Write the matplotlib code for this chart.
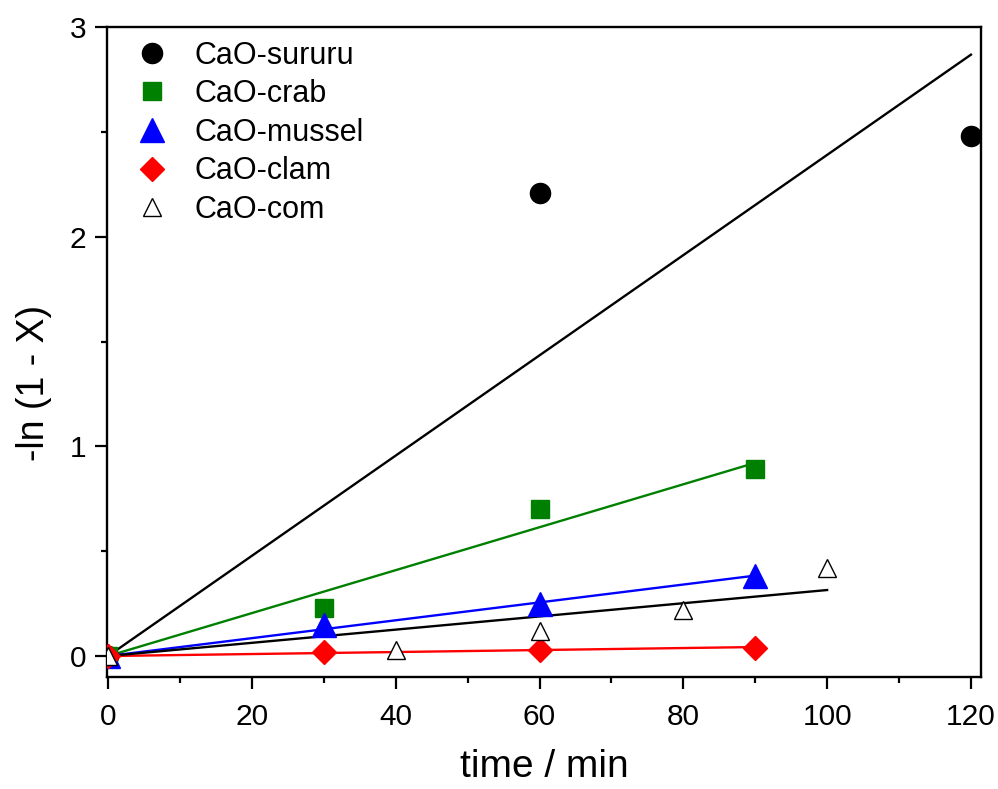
import numpy as np
import matplotlib
matplotlib.use("Agg")
import matplotlib.pyplot as plt
from matplotlib.ticker import MultipleLocator

plt.rcParams['font.family'] = ['Liberation Sans', 'DejaVu Sans']

# data
sururu_t = [0, 60, 120]
sururu_y = [0, 2.21, 2.48]
crab_t = [0, 30, 60, 90]
crab_y = [0, 0.23, 0.70, 0.89]
mussel_t = [0, 30, 60, 90]
mussel_y = [0, 0.15, 0.25, 0.38]
clam_t = [0, 30, 60, 90]
clam_y = [0, 0.02, 0.03, 0.04]
com_t = [0, 40, 60, 80, 100]
com_y = [0, 0.03, 0.12, 0.22, 0.42]

labels = ['CaO-sururu', 'CaO-crab', 'CaO-mussel', 'CaO-clam', 'CaO-com']

fig = plt.figure(figsize=(9.98, 7.89), dpi=100)
ax = fig.add_axes([107/998, 1-677/789, (981-107)/998, (677-27)/789])

def fit_line(t, y, color):
    t = np.asarray(t, float); y = np.asarray(y, float)
    k = np.sum(t*y)/np.sum(t*t)
    xs = np.array([0, t.max()])
    ax.plot(xs, k*xs, color=color, lw=1.7, zorder=2)

fit_line(sururu_t, sururu_y, 'black')
fit_line(crab_t, crab_y, 'green')
fit_line(mussel_t, mussel_y, 'blue')
fit_line(clam_t, clam_y, 'red')
fit_line(com_t, com_y, 'black')

h1, = ax.plot(sururu_t, sururu_y, 'o', color='black', ms=14.5, ls='none', zorder=3, label=labels[0])
h2, = ax.plot(crab_t, crab_y, 's', color='green', ms=13, ls='none', zorder=3, label=labels[1])
h3, = ax.plot(mussel_t, mussel_y, '^', color='blue', ms=17, ls='none', zorder=3, label=labels[2])
h4, = ax.plot(clam_t, clam_y, 'D', color='red', ms=12.5, ls='none', zorder=3, label=labels[3])
h5, = ax.plot(com_t, com_y, '^', mfc='white', mec='black', mew=1.0, ms=13, ls='none', zorder=4, label=labels[4])

ax.set_xlim(-0.15, 121.4)
ax.set_ylim(-0.1, 3.0)
ax.xaxis.set_major_locator(MultipleLocator(20))
ax.xaxis.set_minor_locator(MultipleLocator(10))
ax.yaxis.set_major_locator(MultipleLocator(1))
ax.yaxis.set_minor_locator(MultipleLocator(0.5))
ax.tick_params(which='both', direction='out', width=1.6, labelsize=21.5, top=False, right=False)
ax.tick_params(which='major', length=8.5)
ax.tick_params(which='minor', length=4.5)
ax.tick_params(axis='x', which='major', pad=10)
ax.tick_params(axis='y', which='major', pad=6.5)
for s in ax.spines.values():
    s.set_linewidth(1.7)

ax.set_xlabel('time / min', fontsize=28, labelpad=13)
ax.set_ylabel('-ln (1 - X)', fontsize=27)
ax.yaxis.set_label_coords(-0.063, 0.452)

leg = ax.legend(handles=[h1, h2, h3, h4, h5], loc='upper left', frameon=False,
                fontsize=22, labelspacing=0.28, handletextpad=0.8, handlelength=1.2,
                borderaxespad=0.3, bbox_to_anchor=(0.0062, 1.012))

fig.savefig('out.png', dpi=100)
